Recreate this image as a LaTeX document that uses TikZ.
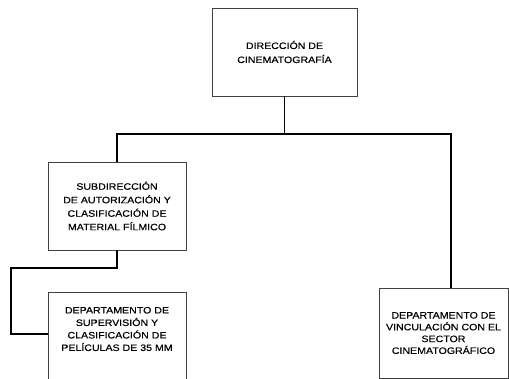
\documentclass[tikz,border=0pt]{standalone}
\usepackage{fontspec}
\newfontfamily\orgfont[FakeStretch=1.14,FakeBold=0.3]{Liberation Sans}
\begin{document}
\begin{tikzpicture}[x=1pt,y=-1pt,
  box/.style={draw=black!75, line width=0.6pt, inner sep=0pt},
  txt/.style={align=center, inner sep=0pt, font=\orgfont\fontsize{9.3}{#1}\selectfont},
  txt/.default=13,
  conn/.style={line width=1.4pt}]
\clip (0,0) rectangle (509,379);
\fill[white] (0,0) rectangle (509,379);
% boxes
\node[box, txt=14, minimum width=145pt, minimum height=88pt] (dir) at (284.5,52) {DIRECCIÓN DE\\CINEMATOGRAFÍA};
\node[box, txt=13.5, minimum width=138pt, minimum height=88pt] (sub) at (117,206) {SUBDIRECCIÓN\\DE AUTORIZACIÓN Y\\CLASIFICACIÓN DE\\MATERIAL FÍLMICO};
\node[box, minimum width=138pt, minimum height=120pt, anchor=north] (dep) at (117,292) {};
\node[txt=12.5] (deptxt) at (117,329) {DEPARTAMENTO DE\\SUPERVISIÓN Y\\CLASIFICACIÓN DE\\PELÍCULAS DE 35 MM};
\node[box, txt=11.8, minimum width=129pt, minimum height=90pt] (vin) at (443.5,333) {DEPARTAMENTO DE\\VINCULACIÓN CON EL\\SECTOR\\CINEMATOGRÁFICO};
% connectors
\coordinate (hl) at (117,134);
\coordinate (hr) at (451,134);
\coordinate (k1) at (11,268);
\coordinate (k2) at (11,334);
\draw[conn] (dir.south) -- (dir.south |- hl);
\draw[conn] (sub.north) -- (hl) -- (hr) -- (hr |- vin.north);
\draw[conn] (sub.south) -- (sub.south |- k1) -- (k1) -- (k2) -- (k2 -| dep.west);
\end{tikzpicture}
\end{document}
